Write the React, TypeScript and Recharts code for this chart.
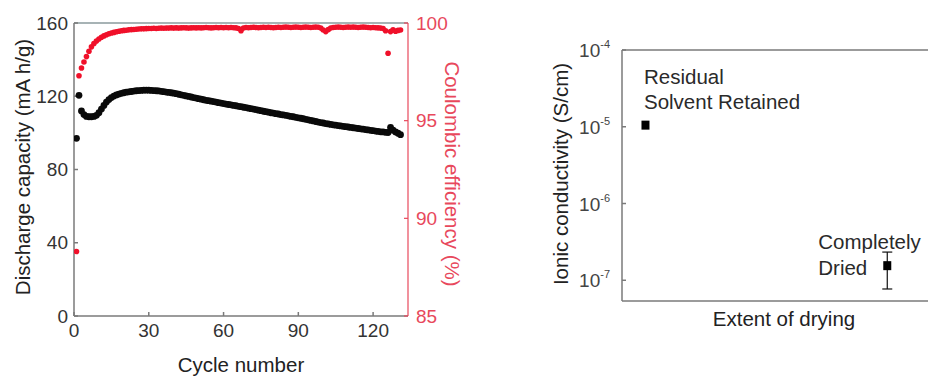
import React from 'react';
import { ComposedChart, ScatterChart, Scatter, XAxis, YAxis, ReferenceLine, ErrorBar } from 'recharts';

// ---------- Left panel data ----------
const capacity = [
  97, 120.5, 112, 110, 109, 108.8, 108.8, 109, 109.6, 111,
  113, 115, 116.8, 118.2, 119.3, 120.1, 120.7, 121.2, 121.6, 121.9,
  122.2, 122.4, 122.6, 122.8, 123, 123.1, 123.2, 123.3, 123.3, 123.3,
  123.2, 123.1, 123, 122.9, 122.7, 122.5, 122.3, 122.1, 121.9, 121.7,
  121.4, 121.1, 120.8, 120.5, 120.2, 119.9, 119.6, 119.3, 119, 118.7,
  118.4, 118.1, 117.8, 117.6, 117.3, 117.1, 116.8, 116.5, 116.3, 116,
  115.7, 115.5, 115.3, 115, 114.8, 114.5, 114.3, 114, 113.8, 113.5,
  113.2, 113, 112.7, 112.4, 112.1, 111.8, 111.6, 111.3, 111, 110.8,
  110.5, 110.3, 110, 109.8, 109.6, 109.3, 109, 108.8, 108.5, 108.2,
  108, 107.7, 107.4, 107.1, 106.8, 106.5, 106.2, 105.9, 105.6, 105.4,
  105.1, 104.9, 104.6, 104.4, 104.2, 104, 103.8, 103.6, 103.4, 103.2,
  103, 102.8, 102.6, 102.4, 102.2, 102, 101.8, 101.6, 101.4, 101.2,
  101, 100.8, 100.6, 100.5, 100.3, 100.2, 103, 101.5, 100.5, 99.8, 99,
];

const efficiency = [
  88.3, 97.3, 97.7, 98.0, 98.28, 98.55, 98.78, 98.95, 99.08, 99.18,
  99.27, 99.34, 99.4, 99.45, 99.49, 99.52, 99.55, 99.58, 99.6, 99.62,
  99.63, 99.65, 99.66, 99.67, 99.68, 99.69, 99.7, 99.7, 99.71, 99.72,
  99.72, 99.73, 99.72, 99.73, 99.74, 99.73, 99.74, 99.74, 99.75, 99.74,
  99.75, 99.74, 99.75, 99.76, 99.75, 99.74, 99.75, 99.76, 99.75, 99.76,
  99.75, 99.76, 99.77, 99.76, 99.75, 99.76, 99.77, 99.76, 99.77, 99.76,
  99.77, 99.76, 99.77, 99.76, 99.75, 99.72, 99.6, 99.74, 99.77, 99.76,
  99.77, 99.78, 99.77, 99.76, 99.77, 99.78, 99.77, 99.78, 99.77, 99.76,
  99.77, 99.78, 99.77, 99.78, 99.79, 99.78, 99.77, 99.78, 99.79, 99.78,
  99.77, 99.78, 99.79, 99.78, 99.77, 99.78, 99.79, 99.78, 99.74, 99.64,
  99.56, 99.66, 99.74, 99.77, 99.78, 99.79, 99.78, 99.77, 99.78, 99.79,
  99.78, 99.79, 99.78, 99.77, 99.78, 99.79, 99.78, 99.77, 99.76, 99.77,
  99.76, 99.75, 99.74, 99.72, 99.6, 98.45, 99.56, 99.65, 99.58, 99.62, 99.64,
];

const cycleTicks = [0, 30, 60, 90, 120];
const capacityTicks = [0, 40, 80, 120, 160];
const efficiencyTicks = [85, 90, 95, 100];

// ---------- Right panel data ----------
const dryingNames = ['Residual', 'Completely'];
const dryingLines = [
  ['Residual', 'Solvent Retained'],
  ['Completely', 'Dried'],
];
const dryingExtent = [0.3, 3.39];
const conductivity = [1.05e-5, 1.55e-7];
const conductivityError = [0, 0.78e-7];
const conductivityTicks = [1e-7, 1e-6, 1e-5, 1e-4];
const conductivityTickExponents = ['-7', '-6', '-5', '-4'];

const cycleData = capacity.map((c, i) => ({ cycle: i + 1, capacity: c, efficiency: efficiency[i] }));
const dryingData = dryingNames.map((n, i) => ({
  name: n,
  lines: dryingLines[i],
  extent: dryingExtent[i],
  sigma: conductivity[i],
  err: conductivityError[i],
}));

const FONT = '"Liberation Sans", Arial, Helvetica, sans-serif';
const RED = '#f0102a';
const RED_AXIS = '#e8485c';
const GRAY = '#7a7a7a';

const Title = (props: any) => {
  const { tx, ty, rot, tcolor, ttext } = props;
  return (
    <text
      x={tx}
      y={ty}
      transform={`rotate(${rot}, ${tx}, ${ty})`}
      textAnchor="middle"
      dominantBaseline="central"
      fontSize={20.5}
      fontFamily={FONT}
      fill={tcolor}
    >
      {ttext}
    </text>
  );
};

const BlackDot = (p: any) => <circle cx={p.cx} cy={p.cy} r={3.4} fill="#0a0a0a" />;
const RedDot = (p: any) => <circle cx={p.cx} cy={p.cy} r={2.8} fill={RED} />;

const PowerTick = (props: any) => {
  const { x, y, payload, index } = props;
  const exp = conductivityTickExponents[conductivityTicks.indexOf(payload.value)] ?? conductivityTickExponents[index];
  return (
    <text x={x} y={y + 7} textAnchor="end" fontSize={19} fontFamily={FONT} fill="#444">
      <tspan>10</tspan>
      <tspan dy={-9} fontSize={11}>{exp}</tspan>
    </text>
  );
};

const DryingPoint = (p: any) => {
  const { cx, cy, payload } = p;
  const first = payload.name === 'Residual';
  const tx = first ? cx - 1.5 : cx - 69;
  const y1 = first ? cy - 41 : cy - 17;
  const y2 = first ? cy - 16 : cy + 9;
  return (
    <g>
      <rect x={cx - 4} y={cy - 4.5} width={8} height={9} fill="#000" />
      <text x={tx} y={y1} fontSize={20.5} fontFamily={FONT} fill="#2a2a2a">{payload.lines[0]}</text>
      <text x={tx} y={y2} fontSize={20.5} fontFamily={FONT} fill="#2a2a2a">{payload.lines[1]}</text>
    </g>
  );
};

export default function App() {
  return (
    <div
      style={{
        position: 'absolute',
        left: 0,
        top: 0,
        width: 928,
        height: 378,
        overflow: 'hidden',
        background: '#fff',
      }}
    >
      <div style={{ position: 'absolute', left: 0, top: 0 }}>
        <ComposedChart
          width={470}
          height={378}
          data={cycleData}
          margin={{ top: 23, right: 0, bottom: 0, left: 0 }}
        >
          <XAxis
            type="number"
            dataKey="cycle"
            domain={[0, 134]}
            ticks={cycleTicks}
            height={62}
            tickSize={-4}
            tickMargin={12}
            stroke={GRAY}
            strokeWidth={1.5}
            tick={{ fill: '#333', fontSize: 19, fontFamily: FONT }}
            allowDataOverflow
            label={<Title tx={241} ty={364} rot={0} tcolor="#222" ttext="Cycle number" />}
          />
          <YAxis
            yAxisId="left"
            dataKey="capacity"
            type="number"
            domain={[0, 160]}
            ticks={capacityTicks}
            width={74}
            tickSize={-4}
            tickMargin={10}
            stroke={GRAY}
            strokeWidth={1.5}
            tick={{ fill: '#333', fontSize: 19, fontFamily: FONT }}
            allowDataOverflow
            label={<Title tx={22} ty={167} rot={-90} tcolor="#222" ttext="Discharge capacity (mA h/g)" />}
          />
          <YAxis
            yAxisId="right"
            orientation="right"
            dataKey="efficiency"
            type="number"
            domain={[85, 100]}
            ticks={efficiencyTicks}
            width={62}
            tickSize={-4}
            tickMargin={12}
            stroke={RED_AXIS}
            strokeWidth={1.2}
            tick={{ fill: RED_AXIS, fontSize: 19, fontFamily: FONT }}
            allowDataOverflow
            label={<Title tx={452} ty={174} rot={90} tcolor={RED_AXIS} ttext="Coulombic efficiency (%)" />}
          />
          <ReferenceLine yAxisId="left" y={160} stroke="#8a9a9c" strokeWidth={1.5} />
          <Scatter
            yAxisId="left"
            dataKey="capacity"
            shape={BlackDot}
            isAnimationActive={false}
          />
          <Scatter
            yAxisId="right"
            dataKey="efficiency"
            shape={RedDot}
            isAnimationActive={false}
          />
        </ComposedChart>
      </div>

      <div style={{ position: 'absolute', left: 540, top: 0 }}>
        <ScatterChart
          width={395}
          height={378}
          margin={{ top: 50, right: 0, bottom: 0, left: 0 }}
        >
          <XAxis
            type="number"
            dataKey="extent"
            domain={[0, 4]}
            ticks={[]}
            tick={false}
            tickLine={false}
            height={77}
            stroke={GRAY}
            strokeWidth={1.5}
            label={<Title tx={244} ty={318} rot={0} tcolor="#222" ttext="Extent of drying" />}
          />
          <YAxis
            type="number"
            dataKey="sigma"
            scale="log"
            domain={[5.37e-8, 1e-4]}
            ticks={conductivityTicks}
            width={82}
            tickSize={-4}
            tickMargin={16}
            stroke={GRAY}
            strokeWidth={1.5}
            tick={<PowerTick />}
            allowDataOverflow
            label={<Title tx={20} ty={174} rot={-90} tcolor="#222" ttext="Ionic conductivity (S/cm)" />}
          />
          <ReferenceLine y={1e-4} stroke={GRAY} strokeWidth={1.5} />
          <Scatter data={dryingData} shape={DryingPoint} isAnimationActive={false}>
            <ErrorBar dataKey="err" direction="y" width={5} stroke="#111" strokeWidth={1.2} isAnimationActive={false} />
          </Scatter>
        </ScatterChart>
      </div>
    </div>
  );
}
